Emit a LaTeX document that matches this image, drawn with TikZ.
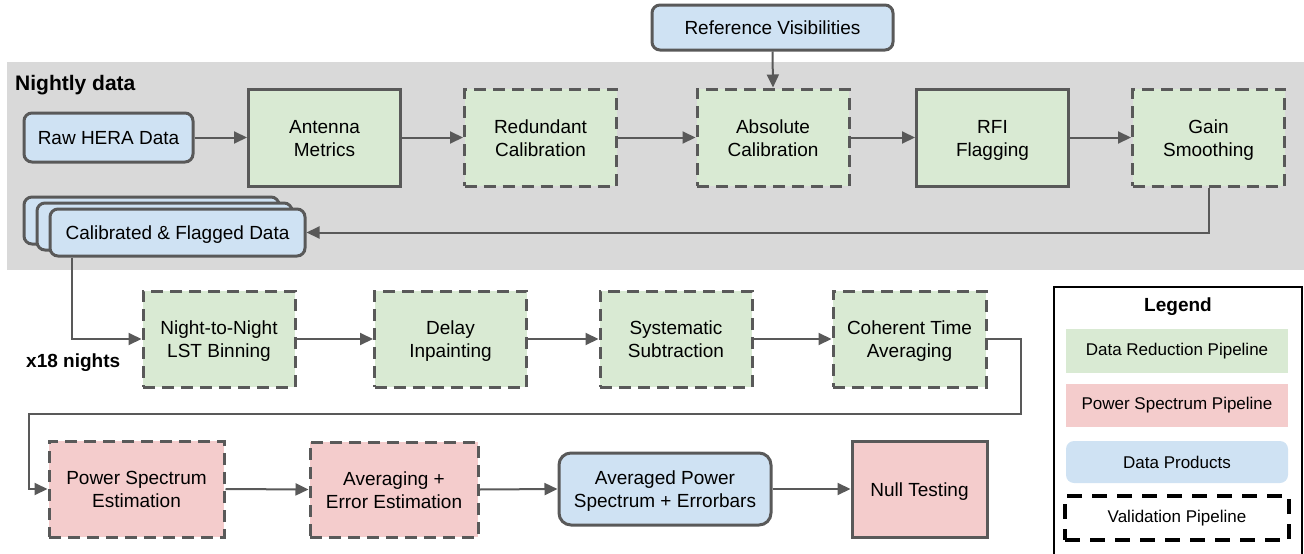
\documentclass[tikz,border=0pt]{standalone}
\usepackage{fontspec}
\setmainfont{Liberation Sans}
\usetikzlibrary{arrows.meta,calc}
\definecolor{bordc}{HTML}{595959}
\definecolor{gfill}{HTML}{D9EAD3}
\definecolor{pfill}{HTML}{F4CCCC}
\definecolor{bfill}{HTML}{CFE2F3}
\definecolor{bgray}{HTML}{D9D9D9}
\newcommand{\boxfont}{\fontsize{19}{22.8}\selectfont}
\newcommand{\legfont}{\fontsize{17}{20}\selectfont}
\newcommand{\ls}{\rule[-4.2pt]{0pt}{22.8pt}}
\tikzset{
  pbox/.style={draw=bordc, line width=3pt, align=center, inner sep=0pt, font=\boxfont, text=black},
  greenbox/.style={pbox, fill=gfill, minimum width=152pt, minimum height=97pt},
  pinkbox/.style={pbox, fill=pfill, minimum height=96pt},
  bluebox/.style={pbox, fill=bfill, rounded corners=8pt},
  dashbox/.style={dash pattern=on 12pt off 7pt},
  conn/.style={draw=bordc, line width=2pt},
  arr/.style={conn, -{Triangle[length=13pt,width=12pt]}},
  legitem/.style={inner sep=0pt, font=\legfont, text=black, minimum width=222pt, align=center}
}
\begin{document}
\begin{tikzpicture}[x=1pt,y=-1pt]
\useasboundingbox (0,0) rectangle (1304,554);
% background
\fill[bgray] (7,62) rectangle (1304,270);
\node[anchor=base west, inner sep=0pt, font=\fontsize{21}{24}\selectfont\bfseries] (nightly) at (15,90) {Nightly data};

% row 1
\node[bluebox, minimum width=169pt, minimum height=49pt] (raw) at (108.5,137.5) {Raw HERA Data\ls};
\node[greenbox] (ant) at (324.5,137.5) {Antenna\ls\\Metrics\ls};
\node[greenbox, dashbox] (red) at (540.5,137.5) {Redundant\ls\\Calibration\ls};
\node[greenbox, dashbox] (abs) at (773,137.5) {Absolute\ls\\Calibration\ls};
\node[greenbox] (rfi) at (992.5,137.5) {RFI\ls\\Flagging\ls};
\node[greenbox, dashbox] (gain) at (1208.5,137.5) {Gain\ls\\Smoothing\ls};
\node[bluebox, minimum width=241pt, minimum height=45pt] (refvis) at (772.5,27.5) {Reference Visibilities\ls};

% calibrated stack
\node[bluebox, minimum width=255pt, minimum height=47pt] (calB) at (151.5,220.5) {};
\node[bluebox, minimum width=255pt, minimum height=47pt] (calM) at (164.5,226.5) {};
\node[bluebox, minimum width=255pt, minimum height=47pt] (calF) at (177.5,232.5) {Calibrated \& Flagged Data\ls};

% row 2
\node[greenbox, dashbox, minimum height=96pt] (nn) at (219,339) {Night-to-Night\ls\\LST Binning\ls};
\node[greenbox, dashbox, minimum height=96pt] (delay) at (450.5,339) {Delay\ls\\Inpainting\ls};
\node[greenbox, dashbox, minimum height=96pt] (sys) at (676,339) {Systematic\ls\\Subtraction\ls};
\node[greenbox, dashbox, minimum height=96pt, minimum width=153pt] (coh) at (909.5,339) {Coherent Time\ls\\Averaging\ls};
\node[anchor=base west, inner sep=0pt, font=\boxfont\bfseries] (x18) at (26,367) {x18 nights};

% row 3
\node[pinkbox, dashbox, minimum width=175pt] (ps) at (136.5,489) {Power Spectrum\ls\\Estimation\ls};
\node[pinkbox, dashbox, minimum width=168pt, minimum height=95pt] (avg) at (394,489.5) {Averaging +\ls\\Error Estimation\ls};
\node[bluebox, rounded corners=12pt, minimum width=212pt, minimum height=72pt] (apse) at (665,489) {Averaged Power\ls\\Spectrum + Errorbars\ls};
\node[pinkbox, minimum width=135pt] (null) at (919.5,489) {Null Testing\ls};

% connectors row 1
\draw[arr] (raw.east) -- (ant.west);
\draw[arr] (ant.east) -- (red.west);
\draw[arr] (red.east) -- (abs.west);
\draw[arr] (abs.east) -- (rfi.west);
\draw[arr] (rfi.east) -- (gain.west);
\draw[arr] (refvis.south) -- (abs.north);
\draw[arr] (gain.south) -- (gain.south |- calF.east) -- (calF.east);

% to row 2
\coordinate (c1) at (72,339);
\draw[arr] (calF.south -| c1) -- (c1) -- (nn.west);
\draw[arr] (nn.east) -- (delay.west);
\draw[arr] (delay.east) -- (sys.west);
\draw[arr] (sys.east) -- (coh.west);

% to row 3
\coordinate (r1) at (1021,339);
\coordinate (r2) at (1021,414);
\coordinate (r3) at (29,414);
\coordinate (r4) at (29,489);
\draw[arr] (coh.east) -- (r1) -- (r2) -- (r3) -- (r4) -- (ps.west);
\draw[arr] (ps.east) -- (avg.west);
\draw[arr] (avg.east) -- (apse.west);
\draw[arr] (apse.east) -- (null.west);

% legend
\draw[black, line width=1.5pt] (1054,560) -- (1054,287) -- (1302,287) -- (1302,560);
\node[inner sep=0pt, font=\boxfont\bfseries] (legt) at (1178,307) {Legend};
\node[legitem, fill=gfill, minimum height=44pt] (l1) at (1177,351) {Data Reduction Pipeline};
\node[legitem, fill=pfill, minimum height=43pt] (l2) at (1177,405.5) {Power Spectrum Pipeline};
\node[legitem, fill=bfill, minimum height=42pt, rounded corners=8pt] (l3) at (1177,462) {Data Products};
\node[legitem, draw=black, line width=3.5pt, dash pattern=on 15pt off 10pt, minimum width=224pt, minimum height=44pt] (l4) at (1177,518) {Validation Pipeline};
\end{tikzpicture}
\end{document}
